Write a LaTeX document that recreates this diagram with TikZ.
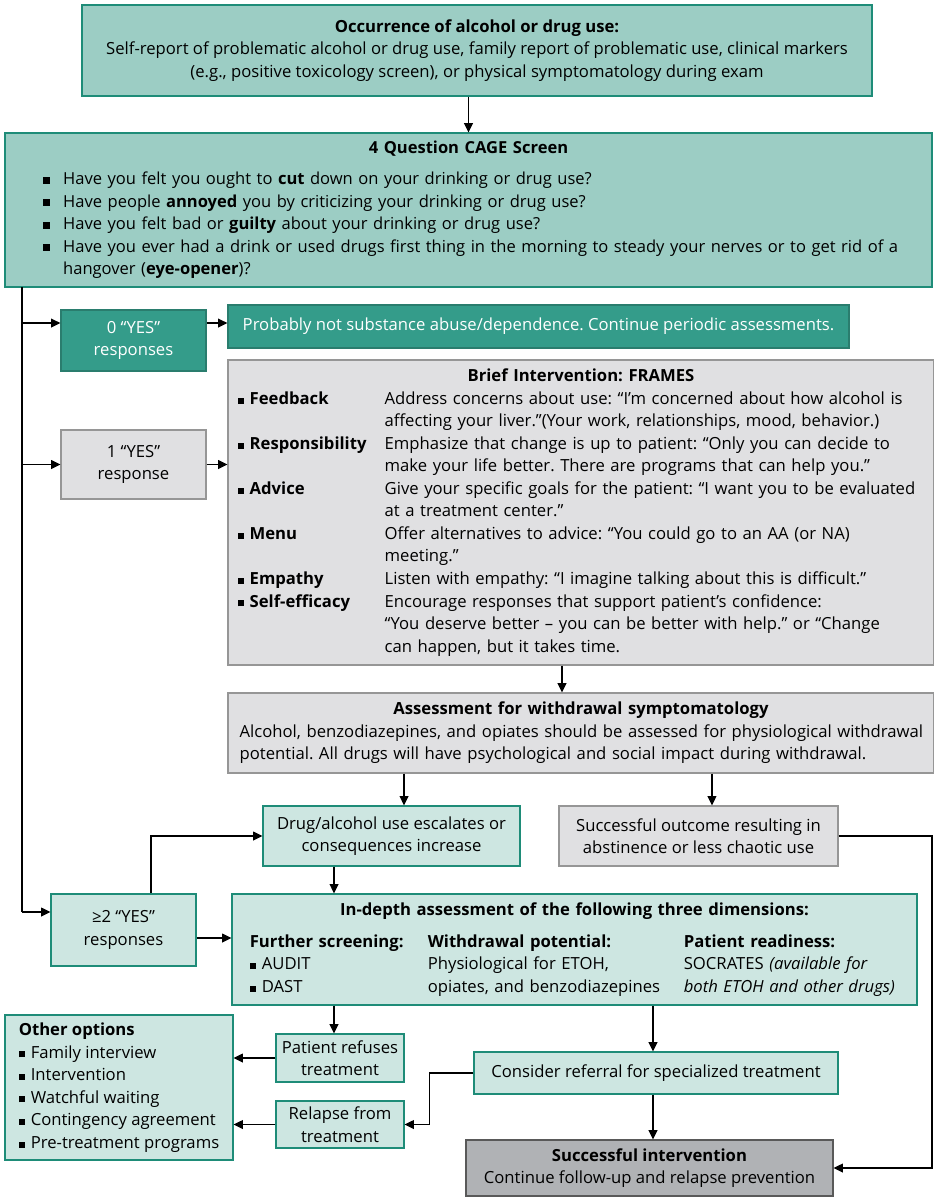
\documentclass[tikz,border=0pt]{standalone}
\usepackage{fontspec}
\setmainfont{Open Sans}
\usetikzlibrary{arrows.meta, positioning}
\frenchspacing

\definecolor{TealHead}{RGB}{156,205,196}
\definecolor{TealLight}{RGB}{205,230,225}
\definecolor{TealDark}{RGB}{52,156,138}
\definecolor{TealLine}{RGB}{30,140,120}
\definecolor{GrayLight}{RGB}{224,224,226}
\definecolor{GrayDark}{RGB}{176,178,181}
\definecolor{GrayLine}{RGB}{150,150,150}

% bullets: large for the CAGE list, small for the rest
\newcommand{\bigbul}{\hspace*{11pt}\rule[0.5pt]{5.25pt}{5.25pt}\hspace{9.75pt}}
\newcommand{\smbul}{\rule[0.5pt]{4.5pt}{4.5pt}\hspace{4.5pt}}
\newcommand{\framelab}[1]{\hspace*{4.5pt}\makebox[110.25pt][l]{\smbul\textbf{#1}}}
\newcommand{\framecont}{\hspace*{114.75pt}}

\begin{document}
\begin{tikzpicture}[x=0.75pt, y=-0.75pt,
        font=\fontsize{12.5}{16.9}\selectfont,
        Box/.style={rectangle, draw=TealLine, line width=0.8pt, align=center, inner sep=0pt},
        Head/.style={Box, fill=TealHead},
        Light/.style={Box, fill=TealLight},
        Dark/.style={Box, fill=TealDark, draw=TealDark!80!black, text=white},
        Gray/.style={Box, fill=GrayLight, draw=GrayLine},
        Final/.style={Box, fill=GrayDark, draw=black!65},
        Link/.style={line width=1.2pt, -{Triangle[length=7pt, width=6.5pt]}},
        Rail/.style={line width=1.2pt}
    ]
    \useasboundingbox (0,0) rectangle (934,1197);

    % Draw the entry box and the CAGE screen
    \node (Occur) [Head, minimum width=592.5pt, minimum height=68.25pt] at (477,50.5)
        {\textbf{Occurrence of alcohol or drug use:}\\
         Self-report of problematic alcohol or drug use, family report of problematic use, clinical markers\\
         (e.g., positive toxicology screen), or physical symptomatology during exam};
    \node (Cage) [Head, minimum width=695.25pt, minimum height=115.5pt, text width=660pt, align=left,
        font=\fontsize{12.4}{16.9}\selectfont] at (468.5,210)
        {\makebox[\hsize]{\textbf{4 Question CAGE Screen}}\\[6pt]
         \bigbul Have you felt you ought to \textbf{cut} down on your drinking or drug use?\\
         \bigbul Have people \textbf{annoyed} you by criticizing your drinking or drug use?\\
         \bigbul Have you felt bad or \textbf{guilty} about your drinking or drug use?\\
         \bigbul Have you ever had a drink or used drugs first thing in the morning to steady your nerves or to get rid of a\\
         \hspace*{26pt}hangover (\textbf{eye-opener})?};

    % Draw the three response branches
    \node (Zero) [Dark, minimum width=108.75pt, minimum height=45.75pt] at (133.5,340.5) {0 “YES”\\responses};
    \node (NotAbuse) [Dark, minimum width=465.75pt, minimum height=32.25pt] at (538.5,326.5)
        {Probably not substance abuse/dependence. Continue periodic assessments.};
    \node (One) [Gray, minimum width=108.75pt, minimum height=51.75pt] at (133.5,464.5) {1 “YES”\\response};
    \node (TwoYes) [Light, minimum width=108.75pt, minimum height=54pt] at (123.5,930) {≥2 “YES”\\responses};

    % Draw the FRAMES brief intervention
    \node (Frames) [Gray, minimum width=529.5pt, minimum height=228.75pt, text width=524pt, align=left] at (581,512.5)
        {\makebox[\hsize]{\textbf{Brief Intervention: FRAMES}}\\
         \framelab{Feedback}Address concerns about use: “I’m concerned about how alcohol is\\
         \framecont affecting your liver.”(Your work, relationships, mood, behavior.)\\
         \framelab{Responsibility}Emphasize that change is up to patient: “Only you can decide to\\
         \framecont make your life better. There are programs that can help you.”\\
         \framelab{Advice}Give your specific goals for the patient: “I want you to be evaluated\\
         \framecont at a treatment center.”\\
         \framelab{Menu}Offer alternatives to advice: “You could go to an AA (or NA)\\
         \framecont meeting.”\\
         \framelab{Empathy}Listen with empathy: “I imagine talking about this is difficult.”\\
         \framelab{Self-efficacy}Encourage responses that support patient’s confidence:\\
         \framecont “You deserve better – you can be better with help.” or “Change\\
         \framecont can happen, but it takes time.};

    % Draw the withdrawal assessment and its two outcomes
    \node (Assess) [Gray, minimum width=529.5pt, minimum height=60pt, text width=527pt, align=left] at (581,733)
        {\makebox[\hsize]{\textbf{Assessment for withdrawal symptomatology}}\\
         \hspace*{7.5pt}Alcohol, benzodiazepines, and opiates should be assessed for physiological withdrawal\\
         \hspace*{7.5pt}potential. All drugs will have psychological and social impact during withdrawal.};
    \node (Escalate) [Light, minimum width=192.75pt, minimum height=45pt] at (391.5,836)
        {Drug/alcohol use escalates or\\consequences increase};
    \node (Outcome) [Gray, minimum width=209.25pt, minimum height=45pt] at (698.5,836)
        {Successful outcome resulting in\\abstinence or less chaotic use};

    % Draw the in-depth assessment
    \node (InDepth) [Light, minimum width=513.75pt, minimum height=83.25pt, text width=495pt, align=left] at (574.5,949.5)
        {\makebox[\hsize]{\textbf{In-depth assessment of the following three dimensions:}}\\[7pt]
         \hspace*{4pt}\makebox[133.5pt][l]{\textbf{Further screening:}}\makebox[192pt][l]{\textbf{Withdrawal potential:}}\textbf{Patient readiness:}\\
         \hspace*{4pt}\makebox[133.5pt][l]{\smbul AUDIT}\makebox[192pt][l]{Physiological for ETOH,}SOCRATES \textit{(available for}\\
         \hspace*{4pt}\makebox[133.5pt][l]{\smbul DAST}\makebox[192pt][l]{opiates, and benzodiazepines}\textit{both ETOH and other drugs)}};

    % Draw the bottom row
    \node (Other) [Light, minimum width=171pt, minimum height=108.75pt, align=left] at (119,1087.5)
        {\textbf{Other options}\\
         \smbul Family interview\\
         \smbul Intervention\\
         \smbul Watchful waiting\\
         \smbul Contingency agreement\\
         \smbul Pre-treatment programs};
    \node (Refuse) [Light, minimum width=96pt, minimum height=36pt] at (340,1058) {Patient refuses\\treatment};
    \node (Relapse) [Light, minimum width=96pt, minimum height=35.25pt] at (340,1124.5) {Relapse from\\treatment};
    \node (Refer) [Light, minimum width=273pt, minimum height=31.5pt] at (656,1073) {Consider referral for specialized treatment};
    \node (Success) [Final, minimum width=275.25pt, minimum height=42pt] at (649.5,1168)
        {\textbf{Successful intervention}\\Continue follow-up and relapse prevention};

    % Free ends of the rails and off-centre ports
    \coordinate (TrunkTop) at (22,287);
    \coordinate (RightRail) at (932,836);
    \coordinate (ZeroIn) at ([yshift=13.1pt]Zero.west);
    \coordinate (ZeroOut) at ([yshift=13.1pt]Zero.east);
    \coordinate (TwoIn) at ([yshift=13.5pt]TwoYes.west);
    \coordinate (TwoOut) at ([yshift=-6pt]TwoYes.east);
    \coordinate (TwoUp) at ([xshift=20.6pt]TwoYes.north);

    % Draw the connections
    \draw[Link] (Occur.south -| Cage.north) -- (Cage.north);
    \draw[Rail] (TrunkTop) -- (TrunkTop |- TwoIn);
    \draw[Link] (TrunkTop |- ZeroIn) -- (ZeroIn);
    \draw[Link] (ZeroOut) -- (ZeroOut -| NotAbuse.west);
    \draw[Link] (TrunkTop |- One.west) -- (One.west);
    \draw[Link] (One.east) -- (One.east -| Frames.west);
    \draw[Link] (TrunkTop |- TwoIn) -- (TwoIn);
    \draw[Link] ([xshift=-14.25pt]Frames.south) -- ([xshift=-14.25pt]Assess.north);
    \draw[Link] ([xshift=9.4pt]Escalate.north |- Assess.south) -- ([xshift=9.4pt]Escalate.north);
    \draw[Link] ([xshift=10.1pt]Outcome.north |- Assess.south) -- ([xshift=10.1pt]Outcome.north);
    \draw[Link] (TwoUp) |- (Escalate.west);
    \draw[Link] (TwoOut) -- (TwoOut -| InDepth.west);
    \draw[Link] ([xshift=-43.1pt]Escalate.south) -- ([xshift=-43.1pt]Escalate.south |- InDepth.north);
    \draw[Link] (Outcome.east) -- (RightRail) |- (Success.east);
    \draw[Link] ([xshift=-4.5pt]Refuse.north |- InDepth.south) -- ([xshift=-4.5pt]Refuse.north);
    \draw[Link] (Refuse.west) -- (Refuse.west -| Other.east);
    \draw[Link] ([xshift=-2.25pt]Refer.north |- InDepth.south) -- ([xshift=-2.25pt]Refer.north);
    \draw[Link] (Refer.west) -- ++(-44,0) |- (Relapse.east);
    \draw[Link] (Relapse.west) -- (Relapse.west -| Other.east);
    \draw[Link] ([xshift=-2.25pt]Refer.south) -- ([xshift=-2.25pt]Refer.south |- Success.north);

\end{tikzpicture}
\end{document}
